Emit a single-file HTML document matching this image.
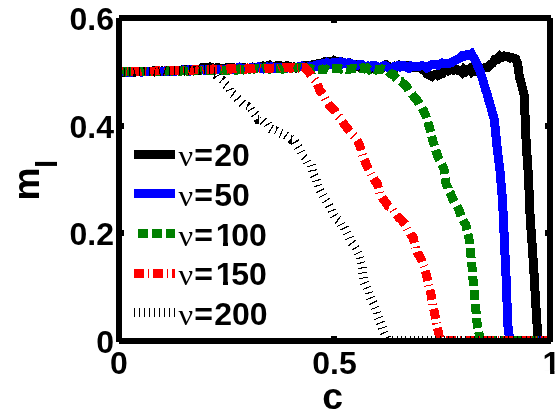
<!DOCTYPE html>
<html><head><meta charset="utf-8"><title>chart</title>
<style>
html,body{margin:0;padding:0;background:#fff;}
body{width:560px;height:420px;overflow:hidden;font-family:"Liberation Sans",sans-serif;}
svg{display:block;will-change:transform;}
text{font-family:"Liberation Sans",sans-serif;fill:#000;}
.t{font-size:32px;font-weight:bold;}
.nu{font-family:"Liberation Serif",serif;font-size:30px;font-weight:normal;font-style:normal;}
.lab{font-size:37.3px;font-weight:bold;}
.sub{font-size:29.5px;font-weight:bold;}
</style></head><body>
<svg width="560" height="420" viewBox="0 0 560 420">
<rect width="560" height="420" fill="#fff"/>
<defs><clipPath id="cp"><rect x="119.0" y="18.0" width="431.0" height="323.5"/></clipPath></defs>
<g clip-path="url(#cp)" shape-rendering="crispEdges">
<path d="M119.0 72.3 L121.2 72.0 L123.3 72.2 L125.5 72.0 L127.6 71.6 L129.8 71.8 L131.9 71.5 L134.1 71.3 L136.3 71.8 L138.4 71.7 L140.6 71.6 L142.7 71.7 L144.9 71.7 L147.1 71.1 L149.2 71.3 L151.4 71.5 L153.5 70.6 L155.7 71.2 L157.8 70.8 L160.0 71.5 L162.1 70.9 L164.2 71.3 L166.3 70.6 L168.4 71.2 L170.6 70.5 L172.7 70.1 L174.8 70.4 L176.9 70.5 L179.0 70.5 L181.1 70.0 L183.2 70.6 L185.3 69.8 L187.4 70.1 L189.6 70.0 L191.7 69.4 L193.8 69.9 L195.9 69.6 L198.0 70.1 L200.5 68.9 L203.0 67.0 L205.2 67.0 L207.5 67.6 L209.8 67.0 L212.0 67.7 L214.0 68.1 L216.0 68.0 L218.0 67.6 L220.0 68.5 L222.2 68.9 L224.4 69.0 L226.7 67.6 L228.9 67.7 L231.1 68.1 L233.3 67.7 L235.6 68.3 L237.8 68.8 L240.0 67.5 L242.1 67.9 L244.2 67.7 L246.2 68.1 L248.3 68.4 L250.4 68.2 L252.5 67.2 L254.6 68.0 L256.7 67.3 L258.8 67.3 L260.8 66.8 L262.9 66.0 L265.0 67.0 L267.2 65.9 L269.4 65.1 L271.7 66.5 L273.9 66.1 L276.1 65.9 L278.3 66.0 L280.6 65.9 L282.8 66.7 L285.0 67.1 L287.1 65.7 L289.3 66.4 L291.4 67.4 L293.6 67.0 L295.7 68.0 L297.9 67.1 L300.0 66.4 L302.0 66.1 L304.0 65.8 L306.0 66.0 L308.0 65.5 L310.0 65.6 L312.1 64.8 L314.3 64.3 L316.4 64.0 L318.6 63.6 L320.7 64.1 L322.9 62.5 L325.0 61.3 L327.1 61.6 L329.3 61.7 L331.4 62.3 L333.6 60.7 L335.7 62.4 L337.9 61.9 L340.0 62.1 L342.0 61.8 L344.0 62.7 L346.0 63.2 L348.0 64.3 L350.0 63.0 L352.0 63.8 L354.0 64.3 L356.0 66.3 L358.0 66.5 L360.0 67.7 L362.1 67.9 L364.3 67.0 L366.4 68.1 L368.6 67.7 L370.7 67.3 L372.9 68.0 L375.0 69.7 L377.2 69.4 L379.3 68.7 L381.5 68.3 L383.7 65.6 L385.8 64.8 L388.0 66.6 L390.2 66.9 L392.4 67.3 L394.5 66.2 L396.7 66.9 L398.9 65.5 L401.1 67.0 L403.3 66.9 L405.5 67.0 L407.6 65.5 L409.8 66.5 L412.0 66.2 L414.0 67.3 L416.0 67.0 L418.0 67.9 L420.0 68.1 L422.5 69.5 L425.0 69.8 L427.3 74.3 L429.7 75.2 L432.0 76.5 L434.0 74.9 L436.0 74.3 L438.0 75.6 L440.0 74.7 L442.0 73.8 L444.0 70.7 L446.0 69.9 L448.0 70.9 L450.0 70.1 L452.0 68.5 L454.0 70.1 L456.0 69.1 L458.0 70.6 L460.0 70.6 L462.0 72.5 L464.0 69.4 L466.0 71.3 L468.0 69.8 L470.0 68.5 L472.0 71.8 L474.0 70.0 L476.0 71.2 L478.0 70.4 L480.3 71.1 L482.7 68.3 L485.0 67.5 L487.5 67.5 L490.0 64.7 L492.5 63.3 L495.0 59.3 L497.5 59.3 L500.0 56.0 L502.0 57.3 L504.0 56.1 L506.0 56.9 L508.0 56.8 L510.0 58.0 L512.0 57.4 L514.0 58.2 L515.8 59.0 L517.5 63.1 L519.4 76.8 L521.8 85.3 L524.3 95.8 L525.2 119.9 L526.2 143.9 L528.0 170.0 L529.2 194.1 L530.2 218.6 L532.2 245.8 L533.8 269.7 L535.2 294.6 L536.8 321.2 L538.3 340.7 L540.6 340.7 L543.0 340.7 L545.3 340.7 L547.7 340.7 L550.0 340.7" fill="none" stroke="#000" stroke-width="9.0" stroke-linejoin="miter" stroke-miterlimit="2"/>
<path d="M119.0 72.6 L121.2 72.0 L123.3 71.3 L125.5 71.5 L127.6 72.2 L129.8 72.4 L131.9 72.2 L134.1 71.8 L136.3 71.7 L138.4 71.7 L140.6 72.0 L142.7 72.0 L144.9 71.9 L147.1 71.7 L149.2 71.9 L151.4 71.6 L153.5 71.3 L155.7 71.2 L157.8 71.0 L160.0 71.4 L162.1 71.7 L164.2 71.1 L166.3 71.8 L168.4 71.4 L170.5 71.3 L172.6 70.9 L174.7 71.3 L176.8 71.0 L178.9 70.9 L181.1 70.1 L183.2 69.9 L185.3 70.5 L187.4 70.0 L189.5 71.1 L191.6 70.0 L193.7 70.8 L195.8 70.5 L197.9 70.6 L200.0 70.5 L202.2 69.6 L204.3 70.2 L206.5 69.7 L208.7 70.3 L210.9 69.6 L213.0 69.0 L215.2 69.6 L217.4 69.4 L219.6 69.3 L221.7 69.6 L223.9 69.6 L226.1 69.1 L228.3 68.7 L230.4 68.9 L232.6 69.5 L234.8 69.0 L237.0 68.0 L239.1 67.3 L241.3 68.7 L243.5 68.7 L245.7 68.7 L247.8 68.6 L250.0 67.9 L252.2 67.6 L254.3 68.4 L256.5 67.9 L258.7 66.9 L260.9 68.6 L263.0 69.0 L265.2 68.2 L267.4 67.0 L269.6 67.9 L271.7 66.9 L273.9 68.4 L276.1 67.7 L278.3 67.6 L280.4 67.8 L282.6 68.4 L284.8 68.7 L287.0 68.0 L289.1 67.9 L291.3 67.7 L293.5 67.5 L295.7 67.5 L297.8 66.9 L300.0 66.8 L302.0 66.1 L304.0 66.9 L306.0 67.3 L308.0 66.9 L310.0 66.1 L312.1 66.8 L314.3 65.8 L316.4 66.3 L318.6 64.2 L320.7 64.2 L322.9 63.7 L325.0 65.1 L327.1 63.0 L329.3 64.8 L331.4 64.3 L333.6 62.4 L335.7 62.3 L337.9 62.4 L340.0 61.9 L342.1 63.8 L344.3 62.6 L346.4 63.8 L348.6 62.7 L350.7 63.3 L352.9 64.3 L355.0 65.1 L357.1 65.3 L359.3 64.3 L361.4 64.3 L363.6 66.2 L365.7 66.7 L367.9 66.0 L370.0 67.1 L372.1 65.6 L374.3 65.6 L376.4 68.7 L378.6 67.0 L380.7 67.1 L382.9 66.0 L385.0 65.4 L387.1 67.1 L389.3 68.1 L391.4 69.0 L393.6 66.9 L395.7 67.0 L397.9 65.6 L400.0 66.8 L402.2 65.3 L404.4 65.6 L406.7 67.4 L408.9 68.3 L411.1 66.0 L413.3 66.6 L415.6 66.3 L417.8 66.2 L420.0 66.1 L422.2 65.6 L424.4 66.1 L426.7 68.0 L428.9 66.6 L431.1 64.9 L433.3 64.2 L435.6 64.3 L437.8 65.3 L440.0 63.8 L442.0 62.9 L444.0 63.6 L446.0 63.1 L448.0 63.2 L450.0 63.1 L452.0 62.3 L454.0 60.8 L456.0 60.2 L458.0 58.9 L460.0 58.0 L462.0 55.7 L464.0 56.5 L467.0 54.8 L469.2 55.3 L471.5 53.8 L474.5 59.2 L477.1 64.6 L479.6 69.8 L481.5 76.0 L483.5 82.3 L485.4 89.3 L487.0 93.2 L488.7 100.2 L490.6 106.0 L492.4 113.2 L494.3 119.1 L497.0 146.6 L500.0 171.0 L502.1 195.4 L503.5 219.9 L504.5 244.4 L505.8 270.9 L506.8 294.7 L507.5 319.5 L508.5 333.1 L511.0 339.6 L513.0 340.3 L515.0 340.7 L517.2 340.7 L519.4 340.7 L521.6 340.7 L523.8 340.7 L525.9 340.7 L528.1 340.7 L530.3 340.7 L532.5 340.7 L534.7 340.7 L536.9 340.7 L539.1 340.7 L541.2 340.7 L543.4 340.7 L545.6 340.7 L547.8 340.7 L550.0 340.7" fill="none" stroke="#00f" stroke-width="9.0" stroke-linejoin="miter" stroke-miterlimit="2"/>
<path d="M122.3 72.0 L123.3 71.9 L125.5 72.1 L127.6 71.6 L129.8 72.0 L131.9 71.9 L132.3 71.9 M136.3 71.8 L138.4 71.6 L140.6 71.7 L142.7 71.5 L144.9 71.5 L146.3 71.7 M150.3 71.5 L151.4 71.6 L153.5 71.4 L155.7 71.7 L157.8 71.7 L160.0 71.2 L160.3 71.2 M164.3 70.9 L166.3 71.1 L168.4 70.8 L170.5 70.9 L172.6 71.1 L174.3 71.5 M178.3 71.3 L178.9 71.3 L181.1 71.2 L183.2 70.6 L185.3 70.9 L187.4 71.2 L188.3 70.9 M192.3 71.1 L193.7 71.0 L195.8 70.8 L197.9 70.6 L200.0 70.3 L202.2 70.6 L202.3 70.6 M206.3 70.7 L206.5 70.7 L208.7 70.3 L210.9 70.4 L213.0 70.5 L215.2 70.0 L216.3 70.1 M220.3 69.7 L221.7 70.0 L223.9 70.0 L226.1 70.4 L228.3 70.1 L230.3 70.1 M234.3 70.0 L234.8 70.0 L237.0 70.0 L239.1 68.9 L241.3 69.1 L243.5 69.9 L244.3 69.7 M248.3 69.1 L250.0 69.1 L252.2 68.6 L254.3 69.1 L256.5 68.5 L258.3 68.9 M262.3 68.5 L263.0 68.0 L265.2 67.9 L267.4 68.9 L269.6 69.3 L271.7 68.6 L272.3 68.6 M276.3 68.7 L278.3 68.7 L280.4 68.9 L282.6 69.3 L284.8 68.4 L286.3 68.0 M290.3 68.5 L291.3 68.2 L293.5 67.8 L295.7 67.6 L297.8 67.5 L300.0 67.3 L300.3 67.4 M304.3 68.3 L304.4 68.3 L306.7 67.7 L308.9 68.7 L311.1 68.4 L313.3 69.6 L314.3 69.3 M318.3 69.2 L320.0 69.3 L322.1 69.0 L324.3 69.7 L326.4 69.1 L328.3 70.1 M332.3 68.6 L332.9 68.7 L335.0 68.1 L337.1 68.8 L339.3 68.4 L341.4 69.1 L342.3 68.9 M346.3 69.2 L347.9 69.7 L350.0 69.0 L352.1 68.9 L354.3 68.4 L356.3 68.8 M360.3 68.3 L360.7 68.4 L362.9 67.5 L365.0 68.8 L367.1 68.0 L369.3 69.9 L370.3 69.5 M374.3 69.7 L375.7 70.1 L377.9 69.7 L380.0 69.9 L382.0 68.9 L384.0 69.4 L384.3 69.5 M388.3 71.3 L390.0 73.4 L392.0 74.6 L394.0 74.8 L396.3 78.5 L396.5 78.7 M400.5 81.3 L401.0 81.4 L403.0 83.6 L405.0 84.6 L407.0 86.9 L408.6 90.0 M411.8 94.0 L413.0 95.6 L415.0 97.7 L417.2 100.0 L419.3 104.0 M422.2 108.0 L423.8 111.0 L425.8 115.6 L426.6 118.0 M427.8 122.0 L427.9 122.5 L430.0 129.1 L430.7 132.0 M431.7 136.0 L433.0 141.2 L434.5 146.0 M435.7 150.0 L438.0 157.1 L439.5 160.0 M441.7 164.0 L442.0 164.6 L444.0 169.1 L444.7 174.0 M445.2 178.0 L446.0 183.5 L448.0 187.9 L448.0 188.0 M449.8 192.0 L450.0 192.3 L452.0 197.4 L454.2 202.0 M456.9 206.0 L459.0 210.0 L461.1 216.0 M463.1 220.0 L463.7 221.1 L466.0 225.3 L467.0 230.0 M467.9 234.0 L469.0 238.8 L469.6 244.0 M470.1 248.0 L470.6 252.6 L471.1 258.0 M471.5 262.0 L472.0 266.7 L472.4 272.0 M472.7 276.0 L473.0 279.7 L473.6 286.0 M474.1 290.0 L474.5 294.3 L475.0 300.0 M475.3 304.0 L475.8 308.9 L476.2 314.0 M476.6 318.0 L477.0 322.5 L478.0 328.0 M478.7 332.0 L479.0 333.9 L481.0 340.7 L482.3 340.7 M486.3 340.7 L487.5 340.7 L489.6 340.7 L491.8 340.7 L493.9 340.7 L496.1 340.7 L496.3 340.7 M500.3 340.7 L500.4 340.7 L502.6 340.7 L504.7 340.7 L506.9 340.7 L509.0 340.7 L510.3 340.7 M514.3 340.7 L515.5 340.7 L517.7 340.7 L519.8 340.7 L522.0 340.7 L524.1 340.7 L524.3 340.7 M528.3 340.7 L528.4 340.7 L530.6 340.7 L532.8 340.7 L534.9 340.7 L537.1 340.7 L538.3 340.7 M542.3 340.7 L543.5 340.7 L545.7 340.7 L547.8 340.7 L550.0 340.7" fill="none" stroke="#008000" stroke-width="9.0" stroke-linejoin="miter" stroke-miterlimit="2"/>
<path d="M119.0 72.1 L121.2 71.9 L122.3 72.0 M126.3 71.8 L127.3 71.9 M131.3 71.8 L131.9 71.8 L134.1 71.6 L136.3 71.7 L138.4 71.8 L140.6 71.6 L141.3 71.4 M145.3 71.1 L146.3 71.1 M150.3 71.4 L151.4 71.3 L153.5 71.4 L155.7 70.9 L157.8 71.0 L160.0 70.7 L160.3 70.7 M164.3 70.4 L165.3 70.5 M169.3 70.5 L170.5 70.4 L172.6 70.6 L174.7 70.7 L176.8 70.9 L178.9 70.8 L179.3 70.7 M183.3 70.5 L184.3 70.4 M188.3 70.4 L189.5 70.7 L191.6 70.4 L193.7 69.8 L195.8 69.7 L197.9 69.7 L198.3 69.8 M202.3 70.0 L203.3 69.7 M207.3 69.9 L208.7 69.9 L210.9 69.5 L213.0 68.9 L215.2 69.2 L217.3 69.2 M221.3 69.7 L221.7 69.6 L222.3 69.6 M226.3 69.3 L228.3 68.8 L230.4 69.3 L232.6 68.2 L234.8 68.3 L236.3 68.2 M240.3 69.1 L241.3 69.1 M245.3 69.1 L245.7 69.2 L247.8 68.1 L250.0 68.8 L252.1 68.8 L254.3 68.8 L255.3 68.6 M259.3 68.7 L260.3 68.9 M264.3 68.1 L265.0 68.0 L267.1 68.0 L269.3 68.0 L271.4 68.3 L273.6 67.9 L274.3 67.9 M278.3 68.2 L279.3 67.8 M283.3 67.7 L284.3 67.3 L286.4 67.3 L288.6 67.2 L290.7 68.2 L292.9 67.3 L293.3 67.5 M297.3 68.2 L298.3 68.1 M302.3 67.0 L304.0 67.0 L306.5 69.7 L309.0 72.4 L311.0 75.3 M314.6 79.2 L315.4 80.2 M317.3 84.2 L318.0 86.1 L320.0 90.8 L322.0 93.3 L322.6 94.2 M324.8 98.2 L325.3 99.2 M328.0 103.2 L328.2 103.5 L330.5 107.0 L332.8 108.4 L335.0 111.3 L335.6 112.4 M338.4 116.4 L339.3 117.4 M342.3 121.4 L344.3 124.5 L346.7 127.5 L349.0 130.4 L349.8 131.4 M353.1 135.4 L353.4 135.7 L354.0 136.4 M357.0 140.4 L357.8 141.7 L360.0 146.4 L361.2 150.4 M362.4 154.4 L362.7 155.4 M364.3 159.4 L364.7 160.3 L366.4 164.8 L368.8 169.4 M370.9 173.4 L371.4 174.4 M373.5 178.4 L375.2 181.4 L377.0 183.0 L378.4 188.2 M379.5 192.2 L379.7 193.2 M382.1 197.2 L384.0 200.4 L386.0 202.7 L388.3 206.2 L389.4 206.7 M393.2 209.7 L393.8 210.7 M396.5 214.7 L397.0 215.4 L399.0 217.8 L401.0 219.5 L403.2 222.0 L405.1 224.4 M407.2 228.4 L407.6 229.2 L407.7 229.4 M410.1 233.4 L411.2 235.5 L413.0 236.8 L414.4 242.9 M415.4 246.9 L415.6 247.8 L415.6 247.9 M417.1 251.9 L417.6 253.2 L419.6 256.1 L421.6 260.5 L422.1 261.9 M423.6 265.9 L424.0 266.9 M425.2 270.9 L426.6 275.5 L427.7 280.9 M428.6 284.9 L428.8 285.9 M429.8 289.9 L431.0 294.7 L431.9 299.9 M432.6 303.9 L432.7 304.9 M433.7 308.9 L434.5 312.5 L435.7 318.9 M436.5 322.9 L436.6 323.6 L436.7 323.9 M437.5 327.9 L438.8 333.6 L439.5 337.9 M441.2 340.7 L442.2 340.7 L442.2 340.7 M446.2 340.7 L446.5 340.7 L448.6 340.7 L450.8 340.7 L452.9 340.7 L455.1 340.7 L456.2 340.7 M460.2 340.7 L461.2 340.7 M465.2 340.7 L465.9 340.7 L468.0 340.7 L470.2 340.7 L472.4 340.7 L474.5 340.7 L475.2 340.7 M479.2 340.7 L480.2 340.7 M484.2 340.7 L485.3 340.7 L487.5 340.7 L489.6 340.7 L491.8 340.7 L493.9 340.7 L494.2 340.7 M498.2 340.7 L498.2 340.7 L499.2 340.7 M503.2 340.7 L504.7 340.7 L506.9 340.7 L509.0 340.7 L511.2 340.7 L513.2 340.7 M517.2 340.7 L517.6 340.7 L518.2 340.7 M522.2 340.7 L524.1 340.7 L526.3 340.7 L528.4 340.7 L530.6 340.7 L532.2 340.7 M536.2 340.7 L537.1 340.7 L537.2 340.7 M541.2 340.7 L541.4 340.7 L543.5 340.7 L545.7 340.7 L547.8 340.7 L550.0 340.7" fill="none" stroke="#f00" stroke-width="9.0" stroke-linejoin="miter" stroke-miterlimit="2"/>
<path d="M119.0 72.0 L120.0 72.1 M124.0 72.3 L124.1 72.3 L125.0 72.3 M129.0 71.9 L129.2 71.9 L130.0 71.9 M134.0 72.3 L134.4 72.4 L135.0 72.2 M139.0 71.7 L139.5 71.7 L140.0 71.7 M144.0 71.6 L144.6 71.5 L145.0 71.5 M149.0 71.4 L149.8 71.4 L150.0 71.4 M154.0 71.9 L154.9 72.1 L155.0 72.1 M159.0 71.5 L160.0 71.3 M164.0 71.6 L165.0 71.9 M169.0 71.1 L170.0 71.0 M174.0 70.9 L175.0 70.9 M179.0 70.9 L180.0 71.0 M184.0 71.0 L185.0 71.0 M189.0 70.1 L189.1 70.1 L190.0 70.3 M194.0 70.2 L194.4 70.1 L195.0 70.2 M199.0 70.7 L199.7 70.8 L200.0 70.7 M204.0 69.9 L205.0 70.0 M209.0 70.0 L210.0 69.9 M214.0 71.5 L215.0 71.4 M217.0 75.4 L217.3 76.1 L217.6 76.4 M221.4 79.8 L222.0 80.1 L222.3 80.5 M225.5 84.4 L226.5 85.2 M230.1 89.0 L230.5 90.0 M232.5 93.9 L233.5 94.6 M237.0 98.3 L237.8 99.3 M241.8 102.8 L242.7 103.6 L242.8 103.7 M246.8 106.1 L247.7 106.4 L247.8 106.5 M251.2 108.7 L251.8 109.7 M254.6 113.7 L255.4 114.7 M257.8 118.7 L258.0 119.1 L258.6 119.1 M262.6 120.7 L263.6 121.7 M267.3 123.9 L267.9 124.9 M270.5 128.7 L271.5 129.3 M275.5 130.7 L276.0 130.8 L276.5 131.1 M280.5 133.2 L281.5 133.6 M285.5 135.1 L286.5 135.8 M290.5 138.6 L291.0 139.0 L291.5 139.0 M294.6 141.7 L295.0 142.3 L295.2 142.7 M297.7 146.7 L298.3 147.7 M300.6 151.7 L301.1 152.7 M303.9 156.5 L304.9 157.4 M307.1 161.4 L307.6 162.4 M311.0 165.1 L311.3 166.1 M312.4 170.1 L312.6 171.1 M313.9 175.1 L314.4 176.1 M316.3 180.1 L316.6 181.1 M317.8 185.1 L318.1 186.1 M320.0 190.1 L320.5 191.1 M322.6 195.1 L323.1 196.1 M325.7 200.1 L326.2 200.8 L326.4 201.1 M329.2 205.1 L329.7 206.1 M331.8 210.1 L332.2 211.1 M334.0 215.1 L334.6 216.1 M337.5 219.5 L338.5 220.2 M340.6 224.1 L341.1 225.1 M344.4 227.4 L344.9 228.4 M346.9 232.4 L347.4 233.4 M349.3 237.4 L349.7 238.4 M351.7 242.4 L352.5 243.4 M355.2 247.4 L355.8 248.4 M358.1 252.4 L358.6 253.4 M359.6 257.4 L359.9 258.4 M360.8 262.4 L361.1 263.4 M362.0 267.4 L362.2 268.4 M362.8 272.4 L363.0 273.4 M363.7 277.4 L363.8 278.4 M364.5 282.4 L364.5 282.4 L364.9 283.4 M366.6 287.4 L367.0 288.4 M368.6 292.4 L368.9 293.4 M370.5 297.4 L370.9 298.4 M372.6 302.4 L373.0 303.2 L373.1 303.4 M374.8 307.4 L375.2 308.4 M376.7 312.4 L377.0 313.4 M378.3 317.4 L378.7 318.4 M380.1 322.4 L380.5 323.4 M382.1 327.4 L382.4 328.4 M383.7 332.4 L384.0 333.2 L384.1 333.4 M386.4 337.4 L386.9 338.4" fill="none" stroke="#000" stroke-width="9.0" stroke-linejoin="miter" stroke-miterlimit="2"/>
<path d="M388.0 340.7 L389.0 340.7 M392.3 340.7 L393.3 340.7 M396.6 340.7 L397.6 340.7 M400.9 340.7 L401.9 340.7 M405.2 340.7 L406.2 340.7 M409.5 340.7 L410.5 340.7 M413.8 340.7 L414.8 340.7 M418.1 340.7 L419.1 340.7 M422.4 340.7 L423.4 340.7 M426.7 340.7 L427.7 340.7 M431.0 340.7 L432.0 340.7 M435.3 340.7 L436.3 340.7 M439.6 340.7 L440.6 340.7 M443.9 340.7 L444.9 340.7 M448.2 340.7 L449.2 340.7 M452.5 340.7 L453.5 340.7 M456.8 340.7 L457.8 340.7 M461.1 340.7 L462.1 340.7 M465.4 340.7 L466.4 340.7 M469.7 340.7 L470.7 340.7 M474.0 340.7 L475.0 340.7 M478.3 340.7 L479.3 340.7 M482.6 340.7 L483.6 340.7 M486.9 340.7 L487.9 340.7 M491.2 340.7 L492.2 340.7 M495.5 340.7 L496.0 340.7 L496.5 340.7 M499.8 340.7 L500.8 340.7 M504.1 340.7 L505.1 340.7 M508.4 340.7 L509.4 340.7 M512.7 340.7 L513.7 340.7 M517.0 340.7 L518.0 340.7 M521.3 340.7 L522.3 340.7 M525.6 340.7 L526.6 340.7 M529.9 340.7 L530.9 340.7 M534.2 340.7 L535.2 340.7 M538.5 340.7 L539.5 340.7 M542.8 340.7 L543.8 340.7 M547.1 340.7 L548.1 340.7" fill="none" stroke="#000" stroke-width="9.0" stroke-linejoin="miter" stroke-miterlimit="2"/>
</g>
<!-- axes box -->
<g fill="#000" shape-rendering="crispEdges">
<rect x="119" y="15" width="432" height="6"/>
<rect x="119" y="338" width="432" height="6"/>
<rect x="116" y="18" width="6" height="324"/>
<rect x="547" y="18" width="6" height="324"/>
</g>
<!-- ticks -->
<g fill="#000" shape-rendering="crispEdges">
<rect x="119" y="123" width="5" height="6"/>
<rect x="119" y="230" width="5" height="6"/>
<rect x="545" y="123" width="5" height="6"/>
<rect x="545" y="230" width="5" height="6"/>
<rect x="331" y="18" width="6" height="5"/>
<rect x="331" y="336" width="6" height="5"/>
</g>
<!-- tick labels -->
<g class="t" opacity="0.999">
<text x="114" y="30" text-anchor="end">0.6</text>
<text x="114" y="137.5" text-anchor="end">0.4</text>
<text x="114" y="245" text-anchor="end">0.2</text>
<text x="114" y="353" text-anchor="end">0</text>
<text x="118.8" y="374" text-anchor="middle">0</text>
<text x="334.5" y="374" text-anchor="middle">0.5</text>
<text x="542.6" y="374">1</text>
</g>
<text class="lab" x="332.5" y="408.5" text-anchor="middle">c</text>
<g transform="translate(39 200.6) rotate(-90)">
<text class="lab" x="0" y="0">m</text>
<text class="sub" x="32.5" y="18">l</text>
</g>
<!-- legend -->
<g shape-rendering="crispEdges">
<rect x="134" y="150" width="41" height="9" fill="#000"/>
<rect x="134" y="189" width="41" height="9" fill="#00f"/>
<rect x="138" y="229" width="10" height="9" fill="#008000"/>
<rect x="152" y="229" width="10" height="9" fill="#008000"/>
<rect x="166" y="229" width="9" height="9" fill="#008000"/>
<rect x="134" y="269" width="10" height="9" fill="#f00"/>
<rect x="148" y="269" width="1" height="9" fill="#f00"/>
<rect x="153" y="269" width="10" height="9" fill="#f00"/>
<rect x="167" y="269" width="1" height="9" fill="#f00"/>
<rect x="172" y="269" width="3" height="9" fill="#f00"/>
<rect x="134" y="308" width="1" height="9" fill="#000"/>
<rect x="139" y="308" width="1" height="9" fill="#000"/>
<rect x="144" y="308" width="1" height="9" fill="#000"/>
<rect x="149" y="308" width="1" height="9" fill="#000"/>
<rect x="154" y="308" width="1" height="9" fill="#000"/>
<rect x="159" y="308" width="1" height="9" fill="#000"/>
<rect x="164" y="308" width="1" height="9" fill="#000"/>
<rect x="169" y="308" width="1" height="9" fill="#000"/>
<rect x="174" y="308" width="1" height="9" fill="#000"/>
<text transform="translate(178.6 166) scale(1.08 1)" class="nu">ν</text>
<text y="166" class="t"><tspan x="194.3">=</tspan><tspan x="214.2">20</tspan></text>
<text transform="translate(178.6 205.75) scale(1.08 1)" class="nu">ν</text>
<text y="205.75" class="t"><tspan x="194.3">=</tspan><tspan x="214.2">50</tspan></text>
<text transform="translate(178.6 245.5) scale(1.08 1)" class="nu">ν</text>
<text x="215.8" y="245.5" class="t">1</text>
<rect x="217.00" y="241.55" width="6.27" height="5.2" fill="#fff"/><rect x="227.66" y="241.55" width="6.00" height="5.2" fill="#fff"/>
<text y="245.5" class="t"><tspan x="194.3">=</tspan><tspan x="231.2">00</tspan></text>
<text transform="translate(178.6 285.25) scale(1.08 1)" class="nu">ν</text>
<text x="215.8" y="285.25" class="t">1</text>
<rect x="217.00" y="281.30" width="6.27" height="5.2" fill="#fff"/><rect x="227.66" y="281.30" width="6.00" height="5.2" fill="#fff"/>
<text y="285.25" class="t"><tspan x="194.3">=</tspan><tspan x="231.2">50</tspan></text>
<text transform="translate(178.6 325) scale(1.08 1)" class="nu">ν</text>
<text y="325" class="t"><tspan x="194.3">=</tspan><tspan x="214.2">200</tspan></text>
</g>
<rect x="543.80" y="370.05" width="6.27" height="5.2" fill="#fff"/><rect x="554.46" y="370.05" width="6.00" height="5.2" fill="#fff"/>
</svg>
</body></html>
